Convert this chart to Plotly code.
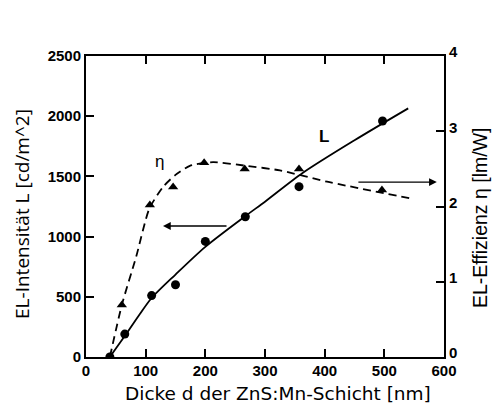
import plotly.graph_objects as go

# measured data points
d_L = [40, 65, 110, 150, 200, 267, 357, 497]
L_vals = [0, 190, 510, 600, 960, 1165, 1415, 1960]
d_eta = [40, 60, 107, 146, 198, 266, 357, 496]
eta_vals = [0, 0.69, 2.02, 2.26, 2.58, 2.50, 2.50, 2.22]

# fitted curves
Lfit_d = [40, 67, 90, 110, 150, 200, 267, 300, 363, 450, 540]
Lfit_v = [0, 188, 355, 490, 685, 915, 1170, 1290, 1528, 1800, 2065]
etafit_d = [40, 60, 84, 106, 129, 150, 174, 213, 269, 325, 404, 548]
etafit_v = [0, 0.69, 1.33, 1.97, 2.26, 2.42, 2.54, 2.59, 2.54, 2.48, 2.33, 2.10]

x_ticks = [0, 100, 200, 300, 400, 500, 600]
yL_ticks = [0, 500, 1000, 1500, 2000, 2500]
yE_ticks = [0, 1, 2, 3, 4]

tickfont = dict(family="Liberation Sans", size=15, color="black", weight=700)

fig = go.Figure()
fig.add_trace(go.Scatter(x=Lfit_d, y=Lfit_v, mode="lines", line=dict(color="black", width=1.8, shape="spline", smoothing=0.8),
                         showlegend=False, hoverinfo="skip"))
fig.add_trace(go.Scatter(x=d_L, y=L_vals, mode="markers", marker=dict(symbol="circle", size=9, color="black"),
                         showlegend=False))
fig.add_trace(go.Scatter(x=etafit_d, y=etafit_v, mode="lines", yaxis="y2",
                         line=dict(color="black", width=1.8, dash="8px,5px", shape="spline", smoothing=0.6),
                         showlegend=False, hoverinfo="skip"))
fig.add_trace(go.Scatter(x=d_eta, y=eta_vals, mode="markers", yaxis="y2",
                         marker=dict(symbol="triangle-up", size=9, color="black"), showlegend=False))

annotations = [
    dict(x=129, y=1088, ax=238, ay=1088, xref="x", yref="y", axref="x", ayref="y",
         showarrow=True, arrowhead=2, arrowsize=1.2, arrowwidth=1.3, arrowcolor="black", text=""),
    dict(x=588, y=1453, ax=454, ay=1453, xref="x", yref="y", axref="x", ayref="y",
         showarrow=True, arrowhead=2, arrowsize=1.2, arrowwidth=1.3, arrowcolor="black", text=""),
    dict(x=124, y=1620, xref="x", yref="y", text="η", showarrow=False,
         font=dict(family="Liberation Sans", size=17, color="black")),
    dict(x=399, y=1835, xref="x", yref="y", text="<b>L</b>", showarrow=False,
         font=dict(family="Liberation Sans", size=17, color="black")),
    # axis titles
    dict(x=0.536, y=-0.12, xref="paper", yref="paper", text="Dicke d der ZnS:Mn-Schicht [nm]",
         showarrow=False, font=dict(family="DejaVu Sans", size=18.5, color="black"),
         xanchor="center", yanchor="middle"),
    dict(x=-0.179, y=0.475, xref="paper", yref="paper", text="EL-Intensität L [cd/m^2]",
         showarrow=False, font=dict(family="Open Sans", size=19, color="black"),
         textangle=-90, xanchor="center", yanchor="middle"),
    dict(x=1.101, y=0.462, xref="paper", yref="paper", text="EL-Effizienz η [lm/W]",
         showarrow=False, font=dict(family="Liberation Sans", size=19.5, color="black"),
         textangle=-90, xanchor="center", yanchor="middle"),
]

fig.update_layout(
    width=496, height=411,
    margin=dict(l=86, r=52, t=56, b=54),
    paper_bgcolor="white", plot_bgcolor="white",
    annotations=annotations,
    xaxis=dict(range=[0, 600], tickvals=x_ticks, ticktext=[f"<b>{v}</b>" for v in x_ticks],
               ticks="inside", ticklen=8, tickwidth=1.5, tickcolor="black",
               showline=True, linewidth=2, linecolor="black", mirror="ticks",
               showgrid=False, zeroline=False, tickfont=tickfont, ticklabelstandoff=-1),
    yaxis=dict(range=[0, 2500], tickvals=yL_ticks, ticktext=[f"<b>{v}</b>" for v in yL_ticks],
               ticks="inside", ticklen=8, tickwidth=1.5, tickcolor="black",
               showline=True, linewidth=2, linecolor="black",
               showgrid=False, zeroline=False, tickfont=tickfont),
    yaxis2=dict(range=[0, 4], tickvals=yE_ticks, ticktext=[f"<b>{v}</b>" for v in yE_ticks],
                overlaying="y", side="right",
                ticks="inside", ticklen=8, tickwidth=1.5, tickcolor="black",
                showline=True, linewidth=2, linecolor="black",
                showgrid=False, zeroline=False, tickfont=tickfont, ticklabelshift=-4),
)

fig.write_html("out.html")
